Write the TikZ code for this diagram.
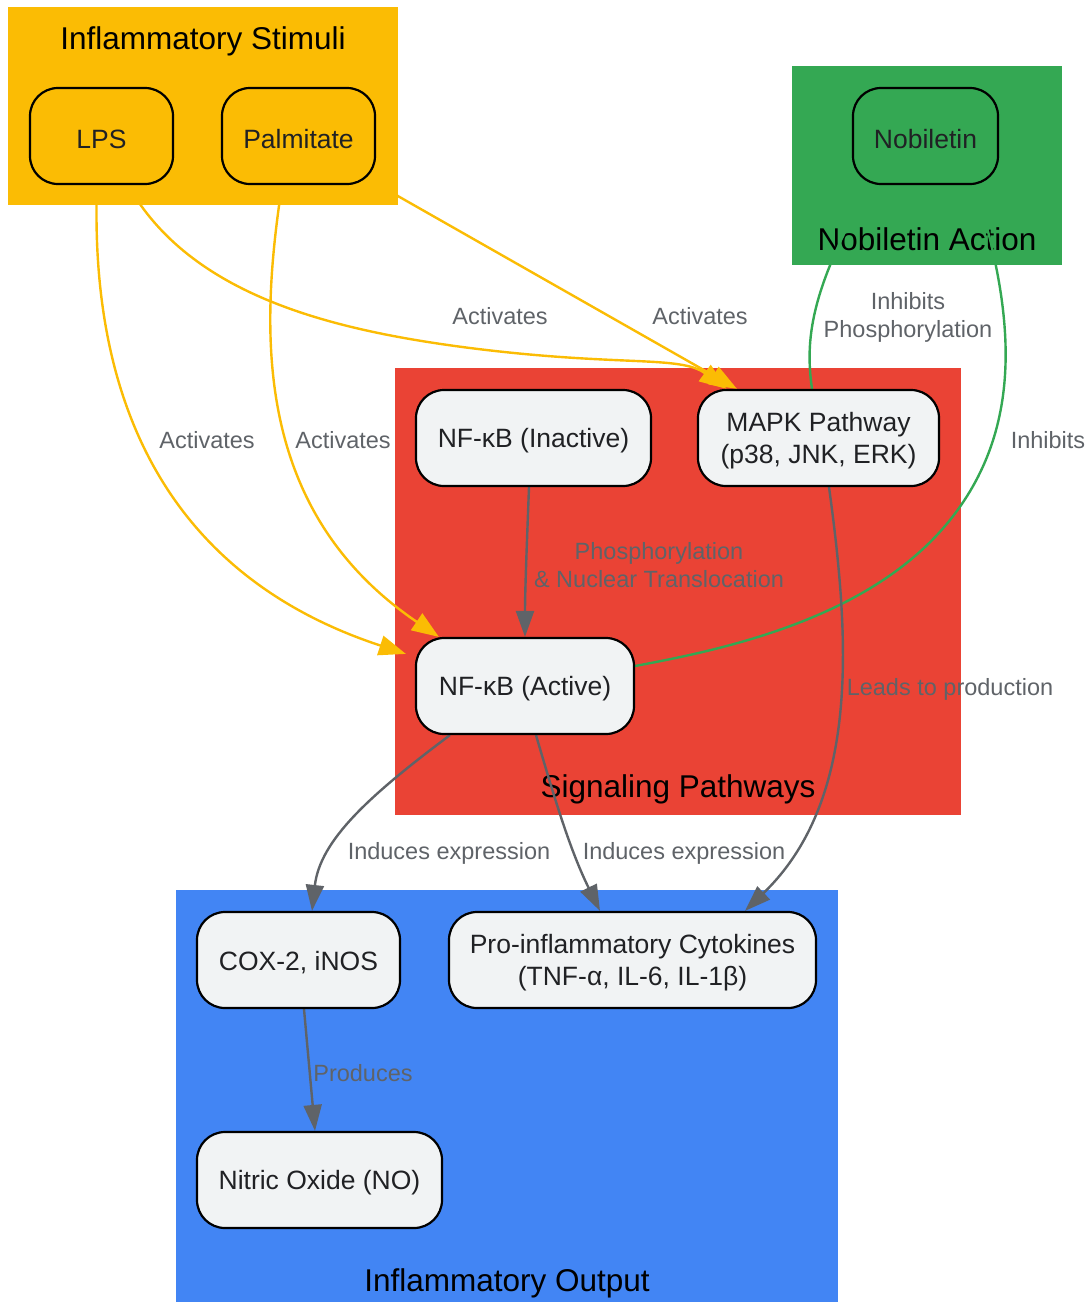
\documentclass[tikz,border=0pt]{standalone}
\usepackage{fontspec}
\setmainfont{Liberation Sans}
\usetikzlibrary{arrows.meta}
\definecolor{gy}{HTML}{FBBC04}
\definecolor{gg}{HTML}{34A853}
\definecolor{gr}{HTML}{EA4335}
\definecolor{gb}{HTML}{4285F4}
\definecolor{nodefill}{HTML}{F1F3F4}
\definecolor{txt}{HTML}{202124}
\definecolor{lbl}{HTML}{5F6368}
\pgfdeclarelayer{bg}
\pgfdeclarelayer{edgelayer}
\pgfdeclarelayer{top}
\pgfsetlayers{bg,edgelayer,main,top}
\begin{document}
\begin{tikzpicture}[x=1pt,y=-1pt,
  box/.style={draw=black,line width=2.2pt,rounded corners=28pt,fill=nodefill,
    inner sep=0pt,minimum height=96pt},
  boxtext/.style={yshift=-3pt,text=txt,font=\fontsize{26.5}{32}\selectfont,align=center,inner sep=0pt},
  title/.style={text=black,font=\fontsize{31.5}{36}\selectfont,inner sep=0pt},
  elabel/.style={text=lbl,font=\fontsize{23.5}{28}\selectfont,align=center,inner sep=0pt},
  yel/.style={draw=gy,line width=2.4pt,-{Triangle[length=27pt,width=20pt]}},
  grn/.style={draw=gg,line width=2.4pt},
  gry/.style={draw=lbl,line width=2.4pt,-{Triangle[length=26pt,width=18pt]}},
]
\useasboundingbox (0,0) rectangle (1089,1302);
% clusters
\begin{pgfonlayer}{bg}
\fill[gy] (8,7) rectangle (398,205);
\fill[gg] (792,66) rectangle (1062,265);
\fill[gr] (395,368) rectangle (961,815);
\fill[gb] (176,890) rectangle (838,1302);
\node[title] (tstim) at (203,41) {Inflammatory Stimuli};
\node[title] (tnob) at (927,239) {Nobiletin Action};
\node[title] (tsig) at (678,789) {Signaling Pathways};
\node[title] (tout) at (507,1283) {Inflammatory Output};
\end{pgfonlayer}
% nodes
\node[box,fill=gy,minimum width=143pt,label={[boxtext]center:LPS}] (lps) at (101.5,136) {};
\node[box,fill=gy,minimum width=153pt,label={[boxtext]center:Palmitate}] (palm) at (298.5,136) {};
\node[box,fill=gg,minimum width=145pt,label={[boxtext]center:Nobiletin}] (nob) at (925.5,136) {};
\node[box,minimum width=235pt,label={[boxtext]center:NF-κB (Inactive)}] (inact) at (533.5,438) {};
\node[box,minimum width=241pt,label={[boxtext]center:{MAPK Pathway\\(p38, JNK, ERK)}}] (mapk) at (818.5,438) {};
\node[box,minimum width=218pt,label={[boxtext]center:NF-κB (Active)}] (act) at (525,686) {};
\node[box,minimum width=203pt,label={[boxtext]center:{COX-2, iNOS}}] (cox) at (298.5,960) {};
\node[box,minimum width=367pt,label={[boxtext]center:{Pro-inflammatory Cytokines\\(TNF-α, IL-6, IL-1β)}}] (cyt) at (632.5,960) {};
\node[box,minimum width=245pt,label={[boxtext]center:Nitric Oxide (NO)}] (no) at (319.5,1180) {};
% edges
\begin{pgfonlayer}{edgelayer}
\path[yel] ([xshift=-4.5pt]lps.south) .. controls (92,330) and (120,560) .. ([xshift=-9pt,yshift=-17pt]act.north west);
\path[yel] ([xshift=-16.5pt]palm.south) .. controls (260,330) and (252,510) .. ([xshift=24pt]act.north west);
\path[yel] ([xshift=26.5pt]lps.south) .. controls (190,295) and (330,330) .. (470,348) .. controls (620,367) and (680,355) .. ([xshift=-92pt]mapk.north);
\path[yel] ([xshift=-15pt,yshift=10pt]palm.south east) -- ([xshift=-81.5pt]mapk.north);
\path[gry] ([xshift=-4.5pt]inact.south) .. controls (527,540) and (525,590) .. (act.north);
\path[grn] ([xshift=-55.5pt]nob.south) .. controls (810,290) and (805,340) .. ([xshift=-6.5pt]mapk.north);
\path[grn] ([xshift=49.5pt]nob.south) .. controls (1010,300) and (1030,420) .. (950,520) .. controls (870,620) and (720,650) .. ([yshift=20pt]act.east);
\path[gry] ([xshift=10.5pt]mapk.south) .. controls (850,640) and (860,800) .. ([xshift=112.5pt]cyt.north);
\path[gry] ([xshift=-75pt]act.south) .. controls (370,795) and (320,840) .. ([xshift=13.5pt]cox.north);
\path[gry] ([xshift=11pt]act.south) .. controls (555,800) and (570,850) .. ([xshift=-32.5pt]cyt.north);
\path[gry] ([xshift=5.5pt]cox.south) -- ([xshift=-4.5pt]no.north);
\end{pgfonlayer}
% edge labels
\begin{pgfonlayer}{top}
\node[elabel] (l1) at (207,440) {Activates};
\node[elabel] (l2) at (343,440) {Activates};
\node[elabel] (l3) at (500,316) {Activates};
\node[elabel] (l4) at (700,316) {Activates};
\node[elabel] (l5) at (659,565) {Phosphorylation\\\& Nuclear Translocation};
\node[elabel] (l6) at (908,317) {Inhibits\\Phosphorylation};
\node[elabel] (l7) at (1048,440) {Inhibits};
\node[elabel] (l8) at (950,689) {Leads to production};
\node[elabel] (l9) at (449,853) {Induces expression};
\node[elabel] (l10) at (684,853) {Induces expression};
\node[elabel] (l11) at (363,1073) {Produces};
\end{pgfonlayer}
\end{tikzpicture}
\end{document}
